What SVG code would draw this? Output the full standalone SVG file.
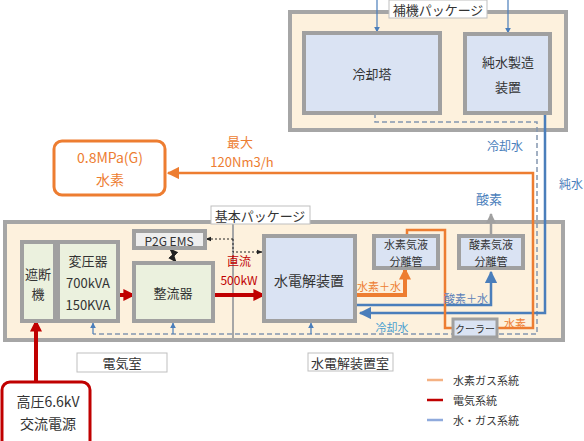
<svg xmlns="http://www.w3.org/2000/svg" width="584" height="441" viewBox="0 0 584 441">
<defs>
<style>
text{font-family:"Noto Sans CJK JP","Noto Sans",sans-serif;text-anchor:middle;dominant-baseline:central}
.pkg{fill:#fdf1dd;stroke:#a6a6a6;stroke-width:4}
.lbl{fill:#fff;stroke:#bfbfbf;stroke-width:1}
.blue{fill:#dae3f3;stroke:#a0a0a0;stroke-width:4}
.green{fill:#ebf1de;stroke:#a0a0a0;stroke-width:4}
.gray{fill:#eeeeee;stroke:#a0a0a0;stroke-width:4}
.t{font-size:13px;fill:#333}
.s{font-size:11px}
.dash{fill:none;stroke:#8496b0;stroke-width:1.5;stroke-dasharray:5,3}
</style>
<marker id="ab" viewBox="0 0 10 10" refX="9" refY="5" markerWidth="5" markerHeight="5" orient="auto"><path d="M0,0L10,5L0,10z" fill="#4a7ebb"/></marker>
<marker id="ao" viewBox="0 0 10 10" refX="9" refY="5" markerWidth="5" markerHeight="5" orient="auto"><path d="M0,0L10,5L0,10z" fill="#ed7d31"/></marker>
<marker id="aob" viewBox="0 0 10 10" refX="8" refY="5" markerWidth="3" markerHeight="3" orient="auto"><path d="M0,0L10,5L0,10z" fill="#ed7d31"/></marker>
<marker id="ar" viewBox="0 0 10 10" refX="8" refY="5" markerWidth="3" markerHeight="3" orient="auto"><path d="M0,0L10,5L0,10z" fill="#c00000"/></marker>
<marker id="ag" viewBox="0 0 10 10" refX="9" refY="5" markerWidth="4" markerHeight="4" orient="auto"><path d="M0,0L10,5L0,10z" fill="#a0a0a0"/></marker>
<marker id="ak" viewBox="0 0 10 10" refX="9" refY="5" markerWidth="6" markerHeight="6" orient="auto-start-reverse"><path d="M0,1L10,5L0,9z" fill="#222"/></marker>
<marker id="ad" viewBox="0 0 10 10" refX="9" refY="5" markerWidth="5" markerHeight="5" orient="auto"><path d="M0,0L10,5L0,10z" fill="#4a7ebb"/></marker>
</defs>

<g id="aux-package">
<rect class="pkg" x="290" y="12" width="276" height="118"/>
<rect class="lbl" x="389" y="0" width="98" height="18"/>
<text x="438" y="9" class="t">補機パッケージ</text>
</g>

<g id="base-package">
<rect class="pkg" x="5" y="222" width="558" height="118"/>
<line x1="233" y1="222" x2="233" y2="340" stroke="#a6a6a6" stroke-width="2"/>
<rect class="lbl" x="211" y="206" width="99" height="18"/>
<text x="260" y="215" class="t">基本パッケージ</text>
</g>

<g id="connectors">
<line x1="377" y1="0" x2="377" y2="32" stroke="#4a7ebb" stroke-width="1.2" marker-end="url(#ab)"/>
<line x1="508" y1="0" x2="508" y2="33" stroke="#4a7ebb" stroke-width="1.2" marker-end="url(#ab)"/>
<path class="dash" d="M375,113V122H537V334H93"/>
<line x1="93" y1="334" x2="93" y2="323" stroke="#4a7ebb" stroke-width="1.2" marker-end="url(#ad)"/>
<line x1="173" y1="334" x2="173" y2="323" stroke="#4a7ebb" stroke-width="1.2" marker-end="url(#ad)"/>
<line x1="311" y1="334" x2="311" y2="323" stroke="#4a7ebb" stroke-width="1.2" marker-end="url(#ad)"/>
<path d="M545,113V313H360" fill="none" stroke="#4a7ebb" stroke-width="2.5" marker-end="url(#ab)"/>
<path d="M357,305H491V272" fill="none" stroke="#4a7ebb" stroke-width="2.5" marker-end="url(#ab)"/>
<path d="M357,295H405V270" fill="none" stroke="#ed7d31" stroke-width="4" marker-end="url(#aob)"/>
<path d="M407,235V230H445V328H452" fill="none" stroke="#ed7d31" stroke-width="2.5"/>
<path d="M497,328H533V173H168" fill="none" stroke="#ed7d31" stroke-width="2.5" marker-end="url(#ao)"/>
<line x1="491" y1="235" x2="491" y2="214" stroke="#a0a0a0" stroke-width="2.5" marker-end="url(#ag)"/>
<line x1="118" y1="295" x2="133" y2="295" stroke="#c00000" stroke-width="4" marker-end="url(#ar)"/>
<line x1="213" y1="295" x2="263" y2="295" stroke="#c00000" stroke-width="4" marker-end="url(#ar)"/>
<line x1="36" y1="382" x2="36" y2="322" stroke="#c00000" stroke-width="4" marker-end="url(#ar)"/>
<path d="M233,239H206" fill="none" stroke="#222" stroke-width="1" stroke-dasharray="2,2" marker-end="url(#ak)"/>
<path d="M233,239V252H262" fill="none" stroke="#222" stroke-width="1" stroke-dasharray="2,2" marker-end="url(#ak)"/>
<path d="M170,249L175,254L172,257L176,262" fill="none" stroke="#222" stroke-width="1.5" marker-start="url(#ak)" marker-end="url(#ak)"/>
</g>

<g id="cooling-tower">
<rect class="blue" x="304" y="33" width="136" height="80"/>
<text x="372" y="73" class="t">冷却塔</text>
</g>
<g id="pure-water">
<rect class="blue" x="465" y="34" width="85" height="79"/>
<text x="508" y="61" class="t">純水製造</text>
<text x="508" y="86" class="t">装置</text>
</g>
<g id="breaker">
<rect class="green" x="22" y="242" width="33" height="79"/>
<text x="38" y="273" class="t">遮断</text>
<text x="38" y="293" class="t">機</text>
</g>
<g id="transformer">
<rect class="green" x="58" y="242" width="60" height="79"/>
<text x="88" y="260" class="t">変圧器</text>
<text x="88" y="282" class="t">700kVA</text>
<text x="88" y="304" class="t">150KVA</text>
</g>
<g id="p2g-ems">
<rect class="gray" x="134" y="231" width="71" height="17"/>
<text x="169" y="240" class="t" style="font-size:12px">P2G EMS</text>
</g>
<g id="rectifier">
<rect class="green" x="134" y="263" width="79" height="58"/>
<text x="173" y="292" class="t">整流器</text>
</g>
<g id="electrolyzer">
<rect class="blue" x="264" y="236" width="91" height="85"/>
<text x="309" y="280" class="t" style="font-size:14px">水電解装置</text>
</g>
<g id="h2-separator">
<rect class="blue" x="374" y="236" width="64" height="32"/>
<text x="406" y="244" class="t" style="font-size:11px">水素気液</text>
<text x="406" y="261" class="t" style="font-size:11px">分離管</text>
</g>
<g id="o2-separator">
<rect class="blue" x="459" y="236" width="64" height="32"/>
<text x="491" y="244" class="t" style="font-size:11px">酸素気液</text>
<text x="491" y="261" class="t" style="font-size:11px">分離管</text>
</g>
<g id="cooler">
<rect class="blue" x="453" y="319" width="44" height="18" style="stroke-width:3"/>
<text x="475" y="328" class="t" style="font-size:10px">クーラー</text>
</g>
<g id="h2-storage">
<rect x="54" y="141" width="111" height="54" rx="8" fill="#fff" stroke="#ed7d31" stroke-width="3"/>
<text x="110" y="157" style="font-size:14px;fill:#ed7d31">0.8MPa(G)</text>
<text x="110" y="179" style="font-size:14px;fill:#ed7d31">水素</text>
</g>
<g id="power-source">
<rect x="2" y="382" width="88" height="70" rx="8" fill="#fff" stroke="#c00000" stroke-width="3"/>
<text x="48" y="401" class="t" style="font-size:14px">高圧6.6kV</text>
<text x="48" y="423" class="t" style="font-size:14px">交流電源</text>
</g>
<g id="room-labels">
<rect class="lbl" x="77" y="353" width="90" height="19"/>
<text x="122" y="362" class="t">電気室</text>
<rect class="lbl" x="308" y="353" width="85" height="18"/>
<text x="350" y="362" class="t">水電解装置室</text>
</g>
<g id="labels">
<text x="240" y="141" style="font-size:13px;fill:#ed7d31">最大</text>
<text x="242" y="161" style="font-size:13px;fill:#ed7d31">120Nm3/h</text>
<text x="239" y="260" style="font-size:12px;fill:#c00000">直流</text>
<text x="239" y="279" style="font-size:12px;fill:#c00000">500kW</text>
<text x="505" y="145" style="font-size:12px;fill:#4a7ebb">冷却水</text>
<text x="571" y="183" style="font-size:12px;fill:#4a7ebb">純水</text>
<text x="489" y="198" style="font-size:13px;fill:#4a7ebb">酸素</text>
<text x="379" y="286" class="s" style="fill:#ed7d31">水素＋水</text>
<text x="466" y="298" class="s" style="fill:#5b7fb8">酸素＋水</text>
<text x="392" y="327" class="s" style="fill:#4a9fd0">冷却水</text>
<text x="515" y="323" class="s" style="fill:#ed7d31">水素</text>
</g>
<g id="legend">
<line x1="427" y1="380" x2="443" y2="380" stroke="#f4b183" stroke-width="2.5"/>
<line x1="427" y1="400" x2="443" y2="400" stroke="#c00000" stroke-width="2.5"/>
<line x1="427" y1="420" x2="443" y2="420" stroke="#8faadc" stroke-width="2.5"/>
<text x="453" y="380" class="s" style="text-anchor:start;fill:#333">水素ガス系統</text>
<text x="453" y="400" class="s" style="text-anchor:start;fill:#333">電気系統</text>
<text x="453" y="420" class="s" style="text-anchor:start;fill:#333">水・ガス系統</text>
</g>
</svg>
